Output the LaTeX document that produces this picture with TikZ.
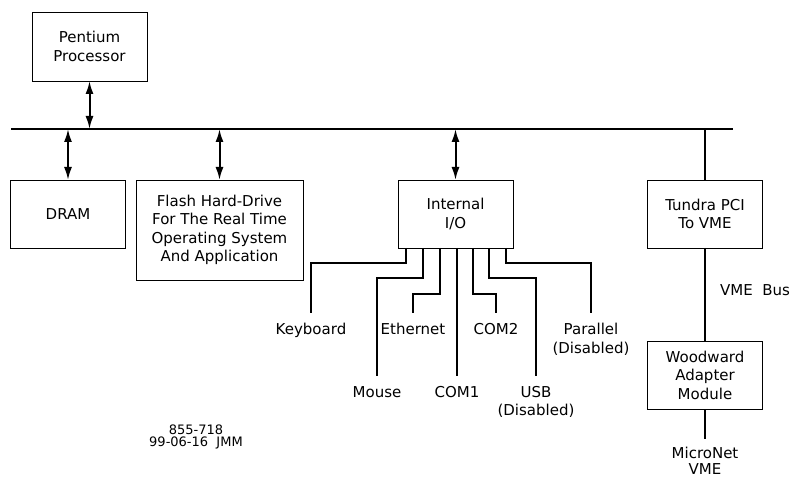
\documentclass[tikz,border=0pt]{standalone}
\usepackage{fontspec}
\setmainfont{DejaVu Sans}
\usetikzlibrary{positioning}
\usetikzlibrary{arrows.meta}
\newcommand{\cadfont}{\fontsize{15}{18.5}\selectfont}
\newcommand{\footfont}{\fontsize{13}{12}\selectfont}
\tikzset{
    mybox/.style = {rectangle, draw=black, line width=0.9pt, minimum width=115pt, minimum height=68pt, inner sep=0pt, outer sep=0pt, align=center, font=\cadfont},
    mylabel/.style = {inner sep=0pt, anchor=north, align=center, font=\cadfont},
    edgebi/.style = {{Latex[length=13pt,width=8pt]}-{Latex[length=13pt,width=8pt]}, line width=2pt},
    edgebus/.style = {line width=2.8pt}, % pci bus
    edgewire/.style = {line width=1.8pt}, % i/o lines
}

\begin{document}
\begin{tikzpicture}[x=1pt, y=-1pt]
  \useasboundingbox (0,0) rectangle (793,481);

  \coordinate (busL) at (11,129);
  \coordinate (busR) at (733,129);
  \draw[edgebus] (busL) -- (busR);

  \node[mybox, minimum height=69pt] (cpu) at (89.5,46.5) {Pentium\\Processor};
  \node[mybox] (dram) at (68,214) {DRAM};
  \node[mybox, minimum width=167pt, minimum height=100pt] (flash) at (219.5,230)
    {Flash Hard-Drive\\For The Real Time\\Operating System\\And Application};
  \node[mybox] (io) at (455.5,214) {Internal\\I/O};
  \node[mybox] (tundra) at (705,214) {Tundra PCI\\To VME};
  \node[mybox] (woodward) at (705,375) {Woodward\\Adapter\\Module};

  \draw[edgebi] (cpu.south) -- (cpu.south |- busL);
  \draw[edgebi] (dram.north |- busL) -- (dram.north);
  \draw[edgebi] (flash.north |- busL) -- (flash.north);
  \draw[edgebi] (io.north |- busL) -- (io.north);

  \draw[edgebus] (tundra.north |- busR) -- (tundra.north);
  \draw[edgebus] (tundra.south) -- (woodward.north);
  \node[anchor=west, inner sep=0pt, font=\cadfont] (vmebus) at (720,290) {VME\ \ Bus};
  \node[mylabel, font=\fontsize{15}{16}\selectfont] (micronet) at (705,447) {MicroNet\\VME};
  \draw[edgebus] (woodward.south) -- ([yshift=8pt]micronet.north);

  \node[mylabel] (kbd) at (311,323) {Keyboard};
  \node[mylabel] (mouse) at (377,386) {Mouse};
  \node[mylabel] (ether) at (413,323) {Ethernet};
  \node[mylabel] (com1) at (457,386) {COM1};
  \node[mylabel] (com2) at (496,323) {COM2};
  \node[mylabel] (usb) at (536,386) {USB\\(Disabled)};
  \node[mylabel] (par) at (591,323) {Parallel\\(Disabled)};

  \draw[edgewire] ([xshift=8pt]io.south west) -- ++(0,15) -| ([yshift=10pt]kbd.north);
  \draw[edgewire] ([xshift=25pt]io.south west) -- ++(0,30) -| ([yshift=10pt]mouse.north);
  \draw[edgewire] ([xshift=42pt]io.south west) -- ++(0,46) -| ([yshift=10pt]ether.north);
  \draw[edgewire] (com1.north |- io.south) -- ([yshift=10pt]com1.north);
  \draw[edgewire] ([xshift=75pt]io.south west) -- ++(0,46) -| ([yshift=10pt]com2.north);
  \draw[edgewire] ([xshift=91pt]io.south west) -- ++(0,30) -| ([yshift=10pt]usb.north);
  \draw[edgewire] ([xshift=108pt]io.south west) -- ++(0,15) -| ([yshift=10pt]par.north);

  \node[align=center, inner sep=0pt, font=\footfont] (dwgno) at (196,437) {855-718\\99-06-16\ \ JMM};
\end{tikzpicture}
\end{document}
